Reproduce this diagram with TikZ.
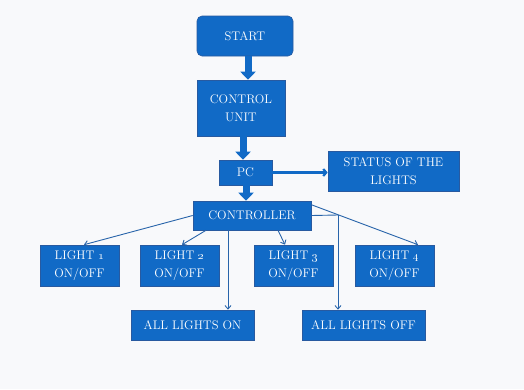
\documentclass[tikz,border=0pt]{standalone}
\usetikzlibrary{arrows.meta}
\definecolor{boxblue}{RGB}{17,106,198}
\definecolor{edgeblue}{RGB}{40,90,160}
\definecolor{lineblue}{RGB}{40,100,170}
\definecolor{bgc}{RGB}{248,249,251}
\begin{document}
\begin{tikzpicture}[x=1pt,y=-1pt,
  box/.style={draw=edgeblue,line width=0.6pt,fill=boxblue,text=white,inner sep=0pt,align=center,font=\fontsize{12.5}{17.5}\selectfont},
  blockarrow/.style={draw=boxblue,line width=7pt,-{Triangle[width=15pt,length=8pt]}},
  thin/.style={draw=lineblue,line width=0.9pt,-{Straight Barb[length=3.5pt,width=6pt]}},
]
\fill[bgc] (0,0) rectangle (524,389);
\useasboundingbox (0,0) rectangle (524,389);
\node[box,rounded corners=5pt,minimum width=96pt,minimum height=40pt] (start) at (245,36) {START};
\node[box,minimum width=88pt,minimum height=56pt] (cu) at (241,108) {CONTROL\\UNIT};
\node[box,minimum width=53pt,minimum height=25pt] (pc) at (245.5,172.5) {PC};
\node[box,minimum width=131pt,minimum height=40pt] (status) at (393.5,171) {STATUS OF THE\\LIGHTS};
\node[box,minimum width=118pt,minimum height=29pt] (ctrl) at (252,215.5) {CONTROLLER};
\node[box,minimum width=79pt,minimum height=41pt] (l1) at (79.5,265.5) {LIGHT \oldstylenums{1}\\ON/OFF};
\node[box,minimum width=79pt,minimum height=41pt] (l2) at (179.5,265.5) {LIGHT \oldstylenums{2}\\ON/OFF};
\node[box,minimum width=79pt,minimum height=41pt] (l3) at (293.5,265.5) {LIGHT \oldstylenums{3}\\ON/OFF};
\node[box,minimum width=79pt,minimum height=41pt] (l4) at (394.5,265.5) {LIGHT \oldstylenums{4}\\ON/OFF};
\node[box,minimum width=123pt,minimum height=30pt] (on) at (192.5,325) {ALL LIGHTS ON};
\node[box,minimum width=123pt,minimum height=30pt] (off) at (363.5,325) {ALL LIGHTS OFF};
\coordinate (offc) at (338,215);
% block arrows
\draw[blockarrow] (start.south -| 248,0) -- (cu.north -| 248,0);
\draw[blockarrow] (cu.south -| 243,0) -- (pc.north -| 243,0);
\draw[blockarrow] (pc.south -| 246,0) -- (ctrl.north -| 246,0);
% PC to status
\draw[draw=boxblue,line width=2.2pt,-{Straight Barb[length=3pt,width=7pt]}] (pc.east) -- (status.west |- pc.east);
% thin connectors
\draw[thin] (ctrl.west) -- (l1.north -| 84,0);
\draw[thin] (ctrl.south -| 206,0) -- (l2.north -| 182,0);
\draw[thin] (ctrl.south -| 228,0) -- (on.north -| 228,0);
\draw[thin] (ctrl.south -| 278,0) -- (l3.north -| 285,0);
\draw[thin] (ctrl.north east) ++(0,4) -- (l4.north -| 418,0);
\draw[draw=lineblue,line width=0.9pt] (ctrl.east) -- (offc);
\draw[thin] (offc) -- (off.north -| offc);
\end{tikzpicture}
\end{document}
